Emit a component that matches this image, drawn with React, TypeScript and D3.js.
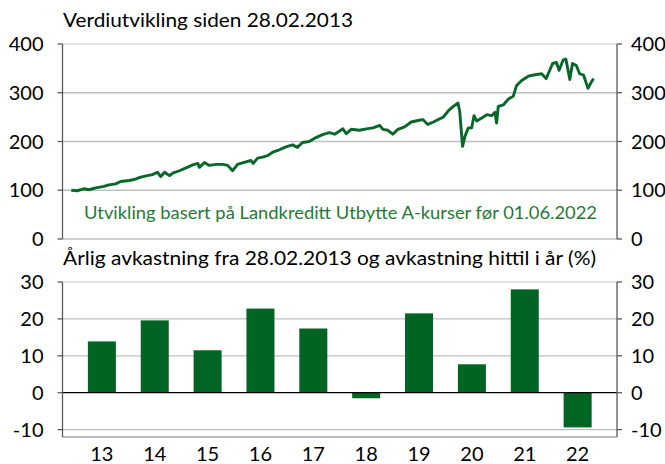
import React, { useRef, useEffect } from "react";
import * as d3 from "d3";

// verdiutvikling, lest av bildet
const lineDates = [
  "2013-02-28", "2013-04-08", "2013-05-22", "2013-06-25", "2013-08-08", "2013-10-01", "2013-11-03", "2013-12-17",
  "2014-01-19", "2014-03-15", "2014-04-17", "2014-05-31", "2014-07-14", "2014-08-16", "2014-09-18", "2014-10-10",
  "2014-11-04", "2014-12-07", "2014-12-28", "2015-02-10", "2015-03-26", "2015-05-09", "2015-06-11", "2015-06-22",
  "2015-07-25", "2015-08-26", "2015-10-09", "2015-11-22", "2015-12-25", "2016-01-26", "2016-02-28", "2016-04-12",
  "2016-05-26", "2016-06-10", "2016-07-09", "2016-08-11", "2016-09-13", "2016-10-16", "2016-11-29", "2017-01-11",
  "2017-02-24", "2017-03-28", "2017-05-01", "2017-06-14", "2017-07-28", "2017-09-10", "2017-10-24", "2017-11-28",
  "2018-01-22", "2018-02-13", "2018-03-18", "2018-05-12", "2018-06-25", "2018-08-08", "2018-09-21", "2018-10-12",
  "2018-11-14", "2018-12-17", "2019-01-19", "2019-03-04", "2019-04-17", "2019-05-31", "2019-07-02", "2019-08-04",
  "2019-09-10", "2019-10-12", "2019-11-14", "2019-12-17", "2020-01-19", "2020-02-19", "2020-03-01", "2020-03-20",
  "2020-04-05", "2020-04-27", "2020-05-19", "2020-06-03", "2020-06-21", "2020-07-24", "2020-08-26", "2020-09-27",
  "2020-10-19", "2020-10-30", "2020-11-10", "2020-12-13", "2021-01-15", "2021-02-17", "2021-03-11", "2021-04-13",
  "2021-05-27", "2021-07-10", "2021-08-23", "2021-09-21", "2021-10-05", "2021-11-03", "2021-11-28", "2021-12-16",
  "2022-01-11", "2022-01-29", "2022-02-09", "2022-02-24", "2022-03-14", "2022-04-08", "2022-04-30", "2022-05-26",
  "2022-06-24", "2022-07-16", "2022-07-31",
];
const lineValues = [
  100, 99, 103, 101, 105, 108, 111, 113,
  118, 120, 122, 127, 130, 132, 137, 128,
  137, 130, 135, 140, 146, 152, 155, 147,
  157, 151, 153, 153, 151, 140, 153, 157,
  161, 155, 166, 168, 171, 178, 183, 189,
  193, 188, 198, 200, 208, 214, 218, 215,
  226, 216, 225, 223, 226, 228, 233, 225,
  223, 215, 225, 230, 240, 243, 245, 235,
  240, 245, 250, 263, 272, 279, 262, 190,
  211, 228, 228, 253, 242, 248, 255, 253,
  260, 238, 272, 275, 287, 293, 315, 325,
  334, 337, 339, 329, 339, 360, 362, 346,
  367, 369, 352, 327, 360, 356, 339, 336,
  309, 322, 329,
];

// årlig avkastning (%)
const years = ["13", "14", "15", "16", "17", "18", "19", "20", "21", "22"];
const returns = [13.9, 19.6, 11.5, 22.8, 17.4, -1.5, 21.5, 7.7, 28.0, -9.4];

const topTicks = [0, 100, 200, 300, 400];
const barTicks = [-10, 0, 10, 20, 30];

const FONT = "Lato, 'Open Sans', sans-serif";

export default function App() {
  const svgRef = useRef<SVGSVGElement>(null);

  useEffect(() => {
    const svg = d3.select(svgRef.current);
    svg.selectAll("*").remove();

    const left = 62.5;
    const right = 617;

    // ---------- øvre diagram ----------
    const x = d3.scaleTime()
      .domain([new Date(2013, 0, 1), new Date(2023, 0, 1)])
      .range([left, right]);
    const y = d3.scaleLinear().domain([0, 400]).range([239, 44]);

    svg.append("text")
      .attr("x", 63).attr("y", 27)
      .attr("font-size", 19.5).attr("fill", "#000")
      .attr("textLength", 290).attr("lengthAdjust", "spacingAndGlyphs")
      .text("Verdiutvikling siden 28.02.2013");

    const top = svg.append("g");
    top.selectAll("line.grid")
      .data(topTicks)
      .enter().append("line")
      .attr("class", "grid")
      .attr("x1", left).attr("x2", right)
      .attr("y1", d => y(d)).attr("y2", d => y(d))
      .attr("stroke", d => d === 400 ? "#d9d9d9" : "#bfbfbf")
      .attr("stroke-width", 1.3);

    drawSideAxes(top, y, topTicks, left, right);

    top.append("text")
      .attr("x", 84).attr("y", 219)
      .attr("font-size", 18).attr("fill", "#1f7a35")
      .attr("textLength", 513).attr("lengthAdjust", "spacingAndGlyphs")
      .text("Utvikling basert på Landkreditt Utbytte A-kurser før 01.06.2022");

    const pts = lineDates.map((d, i) => ({ date: d3.timeParse("%Y-%m-%d")(d) as Date, value: lineValues[i] }));
    top.append("path")
      .datum(pts)
      .attr("fill", "none")
      .attr("stroke", "#07662a")
      .attr("stroke-width", 2.9)
      .attr("stroke-linejoin", "round")
      .attr("d", d3.line<any>().x(d => x(d.date)).y(d => y(d.value)));

    // ---------- nedre diagram ----------
    svg.append("text")
      .attr("x", 63).attr("y", 265)
      .attr("font-size", 19.5).attr("fill", "#000")
      .attr("textLength", 533).attr("lengthAdjust", "spacingAndGlyphs")
      .text("Årlig avkastning fra 28.02.2013 og avkastning hittil i år (%)");

    const xb = d3.scaleBand<string>()
      .domain(years)
      .range([left, right])
      .paddingInner(0.47)
      .paddingOuter(0.48);
    const yb = d3.scaleLinear().domain([-12, 30]).range([437, 282]);

    const bot = svg.append("g");
    bot.selectAll("line.grid")
      .data(barTicks.filter(d => d !== 0))
      .enter().append("line")
      .attr("class", "grid")
      .attr("x1", left).attr("x2", right)
      .attr("y1", d => yb(d)).attr("y2", d => yb(d))
      .attr("stroke", d => d === 30 ? "#d9d9d9" : "#bfbfbf")
      .attr("stroke-width", 1.3);

    bot.selectAll("rect")
      .data(returns)
      .enter().append("rect")
      .attr("x", (d, i) => xb(years[i]) as number)
      .attr("width", xb.bandwidth())
      .attr("y", d => yb(Math.max(0, d)))
      .attr("height", d => Math.abs(yb(d) - yb(0)))
      .attr("fill", "#006423");

    bot.append("line")
      .attr("x1", left).attr("x2", right)
      .attr("y1", yb(0)).attr("y2", yb(0))
      .attr("stroke", "#000").attr("stroke-width", 1.3);

    bot.append("line")
      .attr("x1", left).attr("x2", right)
      .attr("y1", yb(-12)).attr("y2", yb(-12))
      .attr("stroke", "#a6a6a6").attr("stroke-width", 1.3);

    drawSideAxes(bot, yb, barTicks, left, right, yb(-12));

    bot.selectAll("text.cat")
      .data(years)
      .enter().append("text")
      .attr("class", "cat")
      .attr("x", d => (xb(d) as number) + xb.bandwidth() / 2)
      .attr("y", 461)
      .attr("text-anchor", "middle")
      .attr("font-size", 20)
      .text(d => d);
  }, []);

  return (
    <svg ref={svgRef} width={665} height={464}
      style={{ position: "absolute", left: 0, top: 0, fontFamily: FONT, background: "#fff" }} />
  );
}

function drawSideAxes(g: any, scale: any, ticks: number[], left: number, right: number, bottom?: number) {
  const [lo, hi] = scale.range();
  const yEnd = bottom !== undefined ? bottom : lo;
  g.append("line")
    .attr("x1", left).attr("x2", left).attr("y1", hi).attr("y2", yEnd)
    .attr("stroke", "#595959").attr("stroke-width", 1.3);
  g.append("line")
    .attr("x1", right).attr("x2", right).attr("y1", hi).attr("y2", yEnd)
    .attr("stroke", "#595959").attr("stroke-width", 1.3);

  g.selectAll("line.tl")
    .data(ticks).enter().append("line").attr("class", "tl")
    .attr("x1", left - 5).attr("x2", left)
    .attr("y1", (d: number) => scale(d)).attr("y2", (d: number) => scale(d))
    .attr("stroke", "#595959").attr("stroke-width", 1.3);
  g.selectAll("line.tr")
    .data(ticks).enter().append("line").attr("class", "tr")
    .attr("x1", right).attr("x2", right + 5)
    .attr("y1", (d: number) => scale(d)).attr("y2", (d: number) => scale(d))
    .attr("stroke", "#595959").attr("stroke-width", 1.3);

  g.selectAll("text.ll")
    .data(ticks).enter().append("text").attr("class", "ll")
    .attr("x", left - 19).attr("y", (d: number) => scale(d))
    .attr("dy", "0.35em").attr("text-anchor", "end")
    .attr("font-size", 20)
    .text((d: number) => d);
  g.selectAll("text.rl")
    .data(ticks).enter().append("text").attr("class", "rl")
    .attr("x", right + 14).attr("y", (d: number) => scale(d))
    .attr("dy", "0.35em").attr("text-anchor", "start")
    .attr("font-size", 20)
    .text((d: number) => d);
}
